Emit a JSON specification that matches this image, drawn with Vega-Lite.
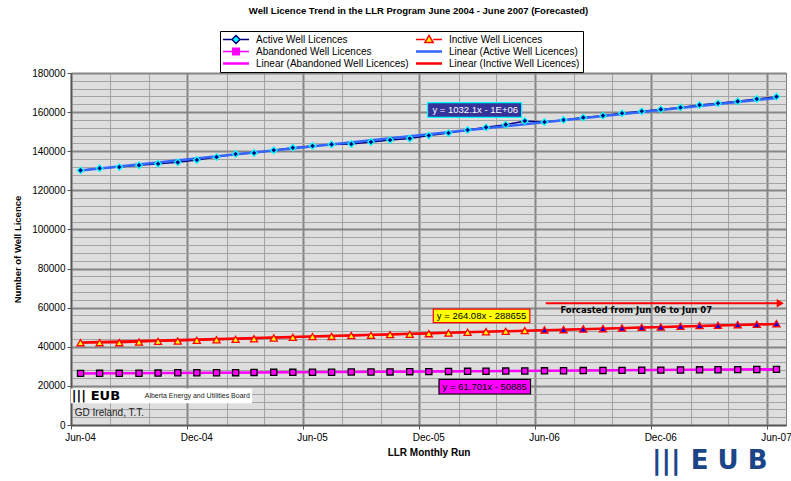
{
  "$schema": "https://vega.github.io/schema/vega-lite/v6.json",
  "width": 715,
  "height": 352,
  "autosize": {"type": "none"},
  "padding": {"left": 71, "top": 73, "right": 5, "bottom": 56},
  "background": "#ffffff",
  "config": {
    "font": "Liberation Sans",
    "view": {"stroke": "#808080", "strokeWidth": 1, "fill": "#dedede"},
    "axis": {"labelFont": "Liberation Sans", "titleFont": "Liberation Sans", "labelColor": "#000000", "titleColor": "#000000"}
  },
  "title": {
    "text": "Well Licence Trend in the LLR Program June 2004 - June 2007 (Forecasted)",
    "font": "Liberation Sans",
    "fontSize": 9.5,
    "fontWeight": "bold",
    "color": "#000000",
    "anchor": "middle",
    "frame": "group",
    "dx": -10,
    "offset": 15
  },
  "datasets": {
    "licences": [
      {"month": "2004-06-16", "Active Well Licences": 130200, "Inctive Well Licences": 42100, "Abandoned Well Licences": 26400, "phase": "Actual"},
      {"month": "2004-07-16", "Active Well Licences": 131300, "Inctive Well Licences": 42100, "Abandoned Well Licences": 26420, "phase": "Actual"},
      {"month": "2004-08-16", "Active Well Licences": 131900, "Inctive Well Licences": 42100, "Abandoned Well Licences": 26430, "phase": "Actual"},
      {"month": "2004-09-16", "Active Well Licences": 132800, "Inctive Well Licences": 42400, "Abandoned Well Licences": 26450, "phase": "Actual"},
      {"month": "2004-10-16", "Active Well Licences": 133600, "Inctive Well Licences": 42800, "Abandoned Well Licences": 26550, "phase": "Actual"},
      {"month": "2004-11-16", "Active Well Licences": 134300, "Inctive Well Licences": 42950, "Abandoned Well Licences": 26700, "phase": "Actual"},
      {"month": "2004-12-16", "Active Well Licences": 135500, "Inctive Well Licences": 43300, "Abandoned Well Licences": 26720, "phase": "Actual"},
      {"month": "2005-01-16", "Active Well Licences": 137000, "Inctive Well Licences": 43600, "Abandoned Well Licences": 26740, "phase": "Actual"},
      {"month": "2005-02-15", "Active Well Licences": 138600, "Inctive Well Licences": 43800, "Abandoned Well Licences": 26760, "phase": "Actual"},
      {"month": "2005-03-16", "Active Well Licences": 139100, "Inctive Well Licences": 44100, "Abandoned Well Licences": 26900, "phase": "Actual"},
      {"month": "2005-04-16", "Active Well Licences": 140500, "Inctive Well Licences": 44500, "Abandoned Well Licences": 26920, "phase": "Actual"},
      {"month": "2005-05-16", "Active Well Licences": 141800, "Inctive Well Licences": 44800, "Abandoned Well Licences": 26940, "phase": "Actual"},
      {"month": "2005-06-16", "Active Well Licences": 142700, "Inctive Well Licences": 45200, "Abandoned Well Licences": 26960, "phase": "Actual"},
      {"month": "2005-07-16", "Active Well Licences": 143500, "Inctive Well Licences": 45300, "Abandoned Well Licences": 26980, "phase": "Actual"},
      {"month": "2005-08-16", "Active Well Licences": 143700, "Inctive Well Licences": 45700, "Abandoned Well Licences": 27100, "phase": "Actual"},
      {"month": "2005-09-16", "Active Well Licences": 144700, "Inctive Well Licences": 45850, "Abandoned Well Licences": 27120, "phase": "Actual"},
      {"month": "2005-10-16", "Active Well Licences": 145700, "Inctive Well Licences": 46200, "Abandoned Well Licences": 27140, "phase": "Actual"},
      {"month": "2005-11-16", "Active Well Licences": 146500, "Inctive Well Licences": 46350, "Abandoned Well Licences": 27260, "phase": "Actual"},
      {"month": "2005-12-16", "Active Well Licences": 148000, "Inctive Well Licences": 46700, "Abandoned Well Licences": 27300, "phase": "Actual"},
      {"month": "2006-01-16", "Active Well Licences": 149300, "Inctive Well Licences": 47050, "Abandoned Well Licences": 27400, "phase": "Actual"},
      {"month": "2006-02-15", "Active Well Licences": 150900, "Inctive Well Licences": 47400, "Abandoned Well Licences": 27450, "phase": "Actual"},
      {"month": "2006-03-16", "Active Well Licences": 152200, "Inctive Well Licences": 47700, "Abandoned Well Licences": 27500, "phase": "Actual"},
      {"month": "2006-04-16", "Active Well Licences": 153600, "Inctive Well Licences": 47900, "Abandoned Well Licences": 27580, "phase": "Actual"},
      {"month": "2006-05-16", "Active Well Licences": 155500, "Inctive Well Licences": 48250, "Abandoned Well Licences": 27640, "phase": "Actual"},
      {"month": "2006-06-16", "Active Well Licences": 154900, "Inctive Well Licences": 48600, "Abandoned Well Licences": 27700, "phase": "Forecast"},
      {"month": "2006-07-16", "Active Well Licences": 156000, "Inctive Well Licences": 48750, "Abandoned Well Licences": 27750, "phase": "Forecast"},
      {"month": "2006-08-16", "Active Well Licences": 157200, "Inctive Well Licences": 49100, "Abandoned Well Licences": 27830, "phase": "Forecast"},
      {"month": "2006-09-16", "Active Well Licences": 158200, "Inctive Well Licences": 49250, "Abandoned Well Licences": 27880, "phase": "Forecast"},
      {"month": "2006-10-16", "Active Well Licences": 159400, "Inctive Well Licences": 49600, "Abandoned Well Licences": 27940, "phase": "Forecast"},
      {"month": "2006-11-16", "Active Well Licences": 160400, "Inctive Well Licences": 49950, "Abandoned Well Licences": 28010, "phase": "Forecast"},
      {"month": "2006-12-16", "Active Well Licences": 161400, "Inctive Well Licences": 50100, "Abandoned Well Licences": 28060, "phase": "Forecast"},
      {"month": "2007-01-16", "Active Well Licences": 162400, "Inctive Well Licences": 50450, "Abandoned Well Licences": 28120, "phase": "Forecast"},
      {"month": "2007-02-15", "Active Well Licences": 163600, "Inctive Well Licences": 50800, "Abandoned Well Licences": 28200, "phase": "Forecast"},
      {"month": "2007-03-16", "Active Well Licences": 164500, "Inctive Well Licences": 50950, "Abandoned Well Licences": 28250, "phase": "Forecast"},
      {"month": "2007-04-16", "Active Well Licences": 165500, "Inctive Well Licences": 51300, "Abandoned Well Licences": 28310, "phase": "Forecast"},
      {"month": "2007-05-16", "Active Well Licences": 166700, "Inctive Well Licences": 51450, "Abandoned Well Licences": 28370, "phase": "Forecast"},
      {"month": "2007-06-16", "Active Well Licences": 167900, "Inctive Well Licences": 51800, "Abandoned Well Licences": 28440, "phase": "Forecast"}
    ],
    "trend": [
      {"month": "2004-06-16", "series": "Linear (Active Well Licences)", "value": 130100},
      {"month": "2007-06-16", "series": "Linear (Active Well Licences)", "value": 167260},
      {"month": "2004-06-16", "series": "Linear (Inctive Well Licences)", "value": 42150},
      {"month": "2007-06-16", "series": "Linear (Inctive Well Licences)", "value": 51650},
      {"month": "2004-06-16", "series": "Linear (Abandoned Well Licences)", "value": 26300},
      {"month": "2007-06-16", "series": "Linear (Abandoned Well Licences)", "value": 28520}
    ],
    "boxes": [
      {"note": "active", "start": "2005-12-14", "end": "2006-05-11", "low": 157350, "high": 164810},
      {"note": "inctive", "start": "2005-12-23", "end": "2006-05-24", "low": 52300, "high": 59300},
      {"note": "abandoned", "start": "2006-01-01", "end": "2006-05-25", "low": 15850, "high": 23370},
      {"note": "logo", "start": "2004-06-02", "end": "2005-03-12", "low": 11400, "high": 18400}
    ],
    "equations": [
      {"note": "active", "text": "y = 1032.1x - 1E+06", "at": "2006-02-27", "level": 161080},
      {"note": "inctive", "text": "y = 264.08x - 288655", "at": "2006-03-09", "level": 55800},
      {"note": "abandoned", "text": "y = 61.701x - 50885", "at": "2006-03-14", "level": 19600}
    ],
    "plainnotes": [
      {"note": "credit", "text": "GD Ireland, T.T.", "at": "2004-06-07", "level": 6140},
      {"note": "board", "text": "Alberta Energy and Utilities Board", "at": "2004-09-25", "level": 14830}
    ],
    "boldnotes": [
      {"note": "forecast", "text": "Forcasted from Jun 06 to Jun 07", "at": "2006-07-11", "level": 58800},
      {"note": "smallstripes", "text": "|||", "at": "2004-06-02", "level": 14830},
      {"note": "smalllogo", "text": "EUB", "at": "2004-07-02", "level": 14830},
      {"note": "bigstripes", "text": "|||", "at": "2006-12-02", "level": -18300},
      {"note": "biglogo", "text": "E U B", "at": "2007-02-01", "level": -18300}
    ],
    "arrow": [
      {"start": "2006-06-18", "end": "2007-06-22", "level": 62230}
    ]
  },
  "layer": [
    {
      "mark": {"type": "rect", "color": {"gradient": "linear", "x1": 0, "y1": 0, "x2": 0, "y2": 1, "stops": [{"offset": 0, "color": "rgba(0,0,0,0)"}, {"offset": 1, "color": "rgba(0,0,0,0.14)"}]}},
      "encoding": {
        "x": {"datum": {"year": 2004, "month": 6, "date": 1, "utc": true}, "type": "temporal", "scale": {"type": "utc", "domain": [{"year": 2004, "month": 6, "date": 1, "utc": true}, {"year": 2007, "month": 7, "date": 1, "utc": true}]}},
        "x2": {"datum": {"year": 2007, "month": 7, "date": 1, "utc": true}},
        "y": {"datum": 0, "type": "quantitative", "scale": {"domain": [0, 180000], "nice": false}},
        "y2": {"datum": 180000}
      }
    },
    {
      "data": {"name": "licences"},
      "transform": [{"fold": ["Active Well Licences", "Inctive Well Licences", "Abandoned Well Licences"], "as": ["series", "value"]}],
      "mark": {"type": "line", "strokeWidth": 1.5},
      "encoding": {
        "x": {
          "field": "month", "type": "temporal",
          "scale": {"type": "utc", "domain": [{"year": 2004, "month": 6, "date": 1, "utc": true}, {"year": 2007, "month": 7, "date": 1, "utc": true}]},
          "axis": {
            "title": "LLR Monthly Run", "titleFontSize": 10, "titleFontWeight": "bold", "titlePadding": 5,
            "tickCount": 200,
            "values": [
              {"year": 2004, "month": 6, "date": 1, "utc": true}, {"year": 2004, "month": 8, "date": 1, "utc": true},
              {"year": 2004, "month": 10, "date": 1, "utc": true}, {"year": 2004, "month": 12, "date": 1, "utc": true},
              {"year": 2005, "month": 2, "date": 1, "utc": true}, {"year": 2005, "month": 4, "date": 1, "utc": true},
              {"year": 2005, "month": 6, "date": 1, "utc": true}, {"year": 2005, "month": 8, "date": 1, "utc": true},
              {"year": 2005, "month": 10, "date": 1, "utc": true}, {"year": 2005, "month": 12, "date": 1, "utc": true},
              {"year": 2006, "month": 2, "date": 1, "utc": true}, {"year": 2006, "month": 4, "date": 1, "utc": true},
              {"year": 2006, "month": 6, "date": 1, "utc": true}, {"year": 2006, "month": 8, "date": 1, "utc": true},
              {"year": 2006, "month": 10, "date": 1, "utc": true}, {"year": 2006, "month": 12, "date": 1, "utc": true},
              {"year": 2007, "month": 2, "date": 1, "utc": true}, {"year": 2007, "month": 4, "date": 1, "utc": true},
              {"year": 2007, "month": 6, "date": 1, "utc": true}
            ],
            "labelExpr": "utcmonth(datum.value) % 6 === 5 ? utcFormat(datum.value, '%b-%y') : ''",
            "labelFontSize": 10, "labelOffset": 9, "labelPadding": 3, "labelOverlap": false, "labelFlush": false,
            "tickSize": 4, "tickColor": "#555555",
            "tickOpacity": {"condition": {"test": "utcmonth(datum.value) % 6 === 5", "value": 1}, "value": 0},
            "grid": true,
            "gridColor": {"condition": {"test": "utcmonth(datum.value) % 6 === 5", "value": "#858585"}, "value": "#a3a3a3"},
            "gridWidth": {"condition": {"test": "utcmonth(datum.value) % 6 === 5", "value": 2}, "value": 1},
            "domainColor": "#555555", "domainWidth": 1.5
          }
        },
        "y": {
          "field": "value", "type": "quantitative",
          "scale": {"domain": [0, 180000], "nice": false},
          "axis": {
            "title": "Number of Well Licence", "titleFontSize": 9.5, "titleFontWeight": "bold", "titlePadding": 9,
            "tickCount": 200,
            "values": [0, 4000, 8000, 12000, 16000, 20000, 24000, 28000, 32000, 36000, 40000, 44000, 48000, 52000, 56000, 60000, 64000, 68000, 72000, 76000, 80000, 84000, 88000, 92000, 96000, 100000, 104000, 108000, 112000, 116000, 120000, 124000, 128000, 132000, 136000, 140000, 144000, 148000, 152000, 156000, 160000, 164000, 168000, 172000, 176000, 180000],
            "labelExpr": "datum.value % 20000 === 0 ? format(datum.value, 'd') : ''",
            "labelFontSize": 10, "labelPadding": 2, "labelOverlap": false, "labelFlush": false,
            "tickSize": 4, "tickColor": "#555555",
            "tickOpacity": {"condition": {"test": "datum.value % 20000 === 0", "value": 1}, "value": 0},
            "grid": true,
            "gridColor": {"condition": {"test": "datum.value % 20000 === 0", "value": "#858585"}, "value": "#a3a3a3"},
            "gridWidth": {"condition": {"test": "datum.value % 20000 === 0", "value": 2}, "value": 1},
            "domainColor": "#555555", "domainWidth": 1.5
          }
        },
        "color": {
          "field": "series", "type": "nominal",
          "scale": {
            "domain": ["Active Well Licences", "Abandoned Well Licences", "Linear (Abandoned Well Licences)", "Inctive Well Licences", "Linear (Active Well Licences)", "Linear (Inctive Well Licences)"],
            "range": ["#000080", "#ff00ff", "#ff00ff", "#ff0000", "#3366ff", "#ff0000"]
          },
          "legend": {
            "orient": "none", "legendX": 149, "legendY": -42, "direction": "vertical", "columns": 2,
            "title": null, "labelFont": "Liberation Sans", "labelFontSize": 10, "labelColor": "#000000",
            "symbolSize": 121, "symbolOffset": 8, "clipHeight": 11, "rowPadding": 1, "columnPadding": 7, "labelOffset": 15,
            "padding": 3, "fillColor": "#ffffff", "strokeColor": "#000000",
            "encode": {
              "symbols": {
                "update": {
                  "shape": {"signal": "datum.value === 'Active Well Licences' ? 'M-2.36,0H-0.73M0.73,0H2.36M0,-0.73L0.73,0L0,0.73L-0.73,0Z' : datum.value === 'Inctive Well Licences' ? 'M-2.36,0H-0.76M0.76,0H2.36M0,-0.73L0.76,0.55L-0.76,0.55Z' : datum.value === 'Abandoned Well Licences' ? 'M-2.36,0H-0.6M0.6,0H2.36M-0.6,-0.6H0.6V0.6H-0.6Z' : 'M-2.36,0H2.36'"},
                  "fill": {"signal": "datum.value === 'Active Well Licences' ? '#00ffff' : datum.value === 'Inctive Well Licences' ? '#ffff00' : datum.value === 'Abandoned Well Licences' ? '#ff00ff' : 'transparent'"},
                  "strokeWidth": {"signal": "datum.value === 'Active Well Licences' || datum.value === 'Inctive Well Licences' || datum.value === 'Abandoned Well Licences' ? 1.5 : 2.5"}
                }
              }
            }
          }
        }
      }
    },
    {
      "data": {"name": "trend"},
      "mark": {"type": "line", "strokeWidth": 2.5},
      "encoding": {
        "x": {"field": "month", "type": "temporal", "scale": {"type": "utc", "domain": [{"year": 2004, "month": 6, "date": 1, "utc": true}, {"year": 2007, "month": 7, "date": 1, "utc": true}]}},
        "y": {"field": "value", "type": "quantitative", "scale": {"domain": [0, 180000], "nice": false}},
        "color": {"field": "series", "type": "nominal"}
      }
    },
    {
      "data": {"name": "licences"},
      "transform": [{"fold": ["Active Well Licences", "Inctive Well Licences", "Abandoned Well Licences"], "as": ["series", "value"]}],
      "mark": {"type": "point", "filled": true, "opacity": 1, "strokeWidth": 1.3},
      "encoding": {
        "x": {"field": "month", "type": "temporal", "scale": {"type": "utc", "domain": [{"year": 2004, "month": 6, "date": 1, "utc": true}, {"year": 2007, "month": 7, "date": 1, "utc": true}]}},
        "y": {"field": "value", "type": "quantitative", "scale": {"domain": [0, 180000], "nice": false}},
        "shape": {"field": "series", "type": "nominal", "scale": {"domain": ["Active Well Licences", "Inctive Well Licences", "Abandoned Well Licences"], "range": ["diamond", "triangle-up", "square"]}, "legend": null},
        "size": {"condition": [{"test": "datum.series === 'Abandoned Well Licences'", "value": 38}, {"test": "datum.series === 'Inctive Well Licences'", "value": 50}], "value": 42},
        "fill": {"condition": [
          {"test": "datum.series === 'Inctive Well Licences' && datum.phase === 'Forecast'", "value": "#0000ff"},
          {"test": "datum.series === 'Inctive Well Licences'", "value": "#ffff00"},
          {"test": "datum.series === 'Abandoned Well Licences'", "value": "#ff00ff"}
        ], "value": "#000080"},
        "stroke": {"condition": [
          {"test": "datum.series === 'Inctive Well Licences'", "value": "#ff0000"},
          {"test": "datum.series === 'Abandoned Well Licences'", "value": "#000000"}
        ], "value": "#00ffff"}
      }
    },
    {
      "data": {"name": "arrow"},
      "mark": {"type": "rule", "color": "#ff0000", "strokeWidth": 2},
      "encoding": {
        "x": {"field": "start", "type": "temporal", "scale": {"type": "utc", "domain": [{"year": 2004, "month": 6, "date": 1, "utc": true}, {"year": 2007, "month": 7, "date": 1, "utc": true}]}},
        "x2": {"field": "end"},
        "y": {"field": "level", "type": "quantitative", "scale": {"domain": [0, 180000], "nice": false}}
      }
    },
    {
      "data": {"name": "arrow"},
      "mark": {"type": "point", "shape": "triangle-right", "filled": true, "color": "#ff0000", "opacity": 1, "size": 70},
      "encoding": {
        "x": {"field": "end", "type": "temporal", "scale": {"type": "utc", "domain": [{"year": 2004, "month": 6, "date": 1, "utc": true}, {"year": 2007, "month": 7, "date": 1, "utc": true}]}},
        "y": {"field": "level", "type": "quantitative", "scale": {"domain": [0, 180000], "nice": false}}
      }
    },
    {
      "data": {"name": "boxes"},
      "mark": {"type": "rect", "strokeWidth": 1.2},
      "encoding": {
        "x": {"field": "start", "type": "temporal", "scale": {"type": "utc", "domain": [{"year": 2004, "month": 6, "date": 1, "utc": true}, {"year": 2007, "month": 7, "date": 1, "utc": true}]}},
        "x2": {"field": "end"},
        "y": {"field": "low", "type": "quantitative", "scale": {"domain": [0, 180000], "nice": false}},
        "y2": {"field": "high"},
        "fill": {"condition": [
          {"test": "datum.note === 'active'", "value": "#333399"},
          {"test": "datum.note === 'inctive'", "value": "#ffff00"},
          {"test": "datum.note === 'abandoned'", "value": "#ff00ff"}
        ], "value": "#ffffff"},
        "stroke": {"condition": [
          {"test": "datum.note === 'active'", "value": "#00ffff"},
          {"test": "datum.note === 'inctive'", "value": "#ff0000"},
          {"test": "datum.note === 'abandoned'", "value": "#000000"}
        ], "value": "#ffffff"}
      }
    },
    {
      "data": {"name": "equations"},
      "mark": {"type": "text", "align": "center", "baseline": "middle", "font": "Liberation Sans", "fontSize": 9.5},
      "encoding": {
        "x": {"field": "at", "type": "temporal", "scale": {"type": "utc", "domain": [{"year": 2004, "month": 6, "date": 1, "utc": true}, {"year": 2007, "month": 7, "date": 1, "utc": true}]}},
        "y": {"field": "level", "type": "quantitative", "scale": {"domain": [0, 180000], "nice": false}},
        "text": {"field": "text"},
        "color": {"condition": {"test": "datum.note === 'active'", "value": "#ffffff"}, "value": "#000000"}
      }
    },
    {
      "data": {"name": "plainnotes"},
      "mark": {"type": "text", "align": "left", "baseline": "middle", "font": "Liberation Sans"},
      "encoding": {
        "x": {"field": "at", "type": "temporal", "scale": {"type": "utc", "domain": [{"year": 2004, "month": 6, "date": 1, "utc": true}, {"year": 2007, "month": 7, "date": 1, "utc": true}]}},
        "y": {"field": "level", "type": "quantitative", "scale": {"domain": [0, 180000], "nice": false}},
        "text": {"field": "text"},
        "size": {"condition": {"test": "datum.note === 'board'", "value": 7}, "value": 10},
        "color": {"value": "#222222"}
      }
    },
    {
      "data": {"name": "boldnotes"},
      "mark": {"type": "text", "align": "left", "baseline": "middle", "font": "DejaVu Sans", "fontWeight": "bold"},
      "encoding": {
        "x": {"field": "at", "type": "temporal", "scale": {"type": "utc", "domain": [{"year": 2004, "month": 6, "date": 1, "utc": true}, {"year": 2007, "month": 7, "date": 1, "utc": true}]}},
        "y": {"field": "level", "type": "quantitative", "scale": {"domain": [0, 180000], "nice": false}},
        "text": {"field": "text"},
        "size": {"condition": [
          {"test": "datum.note === 'forecast'", "value": 8.5},
          {"test": "datum.note === 'smalllogo' || datum.note === 'smallstripes'", "value": 13}
        ], "value": 26},
        "color": {"condition": {"test": "datum.note === 'biglogo' || datum.note === 'bigstripes'", "value": "#1c4587"}, "value": "#000000"}
      }
    }
  ]
}
